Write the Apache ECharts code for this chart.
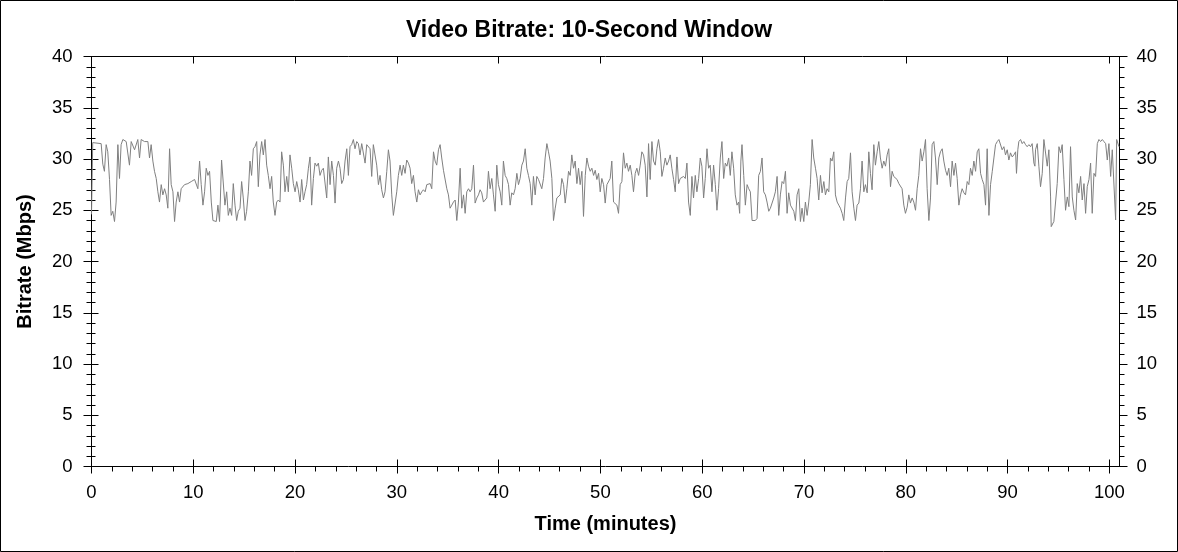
<!DOCTYPE html>
<html><head><meta charset="utf-8">
<script src="https://cdn.jsdelivr.net/npm/echarts@6/dist/echarts.min.js"></script>
<style>html,body{margin:0;padding:0;background:#fff}#c{width:1178px;height:552px}</style>
</head><body><div id="c"></div>
<script>
// [minute, Mbps] samples, split by time range
const seg00to13 = [[0,24.6],[0.12,31.6],[0.29,31.7],[0.95,31.5],[1.11,29.5],[1.27,28.8],[1.44,31.4],[1.60,30.7],[1.77,28.0],[1.93,24.5],[2.09,24.9],[2.26,23.9],[2.42,25.8],[2.59,31.4],[2.75,28.1],[2.91,31.4],[3.08,31.9],[3.41,31.7],[3.73,29.4],[3.90,31.7],[4.23,30.9],[4.55,31.9],[4.72,30.1],[4.88,31.9],[5.21,31.7],[5.54,31.7],[5.70,30.1],[5.86,31.4],[6.03,29.8],[6.19,28.8],[6.36,28.1],[6.52,26.8],[6.68,25.8],[6.85,27.5],[7.01,26.5],[7.18,27.1],[7.34,26.5],[7.50,25.2],[7.67,31.0],[7.83,27.5],[8.00,26.8],[8.16,23.9],[8.32,25.8],[8.49,26.8],[8.65,25.8],[8.81,27.1],[9.14,27.5],[9.47,27.6],[9.80,27.8],[10.13,28.0],[10.45,27.1],[10.62,29.8],[10.78,27.5],[10.95,25.5],[11.11,26.8],[11.27,29.1],[11.44,28.4],[11.60,28.8],[11.77,25.8],[11.93,24.0],[12.26,23.9],[12.42,25.5],[12.58,23.9],[12.66,26.0]];
const seg13to25 = [[12.78,29.9],[12.95,29.8],[13.11,25.5],[13.28,26.8],[13.44,24.5],[13.60,25.2],[13.77,24.5],[13.93,27.6],[14.10,25.5],[14.26,24.0],[14.42,24.9],[14.59,25.2],[14.75,27.8],[14.91,26.2],[15.08,24.0],[15.24,24.9],[15.41,26.8],[15.57,29.8],[15.73,28.4],[15.90,31.0],[16.06,31.2],[16.23,31.7],[16.39,27.3],[16.55,30.4],[16.72,31.7],[16.88,30.4],[17.05,31.9],[17.21,29.4],[17.37,28.4],[17.54,27.1],[17.70,28.3],[17.86,25.8],[18.03,24.5],[18.19,25.8],[18.36,26.0],[18.52,25.8],[18.68,30.7],[18.85,29.4],[19.01,26.8],[19.18,28.3],[19.34,26.8],[19.50,30.4],[19.67,29.1],[19.83,27.6],[20.00,26.8],[20.16,27.8],[20.32,27.0],[20.49,25.8],[20.65,28.0],[20.82,26.0],[20.98,26.8],[21.14,27.5],[21.31,29.1],[21.47,30.2],[21.63,25.5],[21.80,28.1],[21.96,29.6],[22.13,29.3],[22.29,29.6],[22.45,28.4],[22.62,28.9],[22.78,29.1],[22.95,29.1],[23.11,26.2],[23.27,30.2],[23.44,27.5],[23.60,29.8],[23.77,28.4],[23.93,25.7],[24.09,29.1],[24.26,29.8],[24.42,29.1],[24.58,27.6],[24.75,28.0],[24.91,29.8],[25.08,31.0],[25.24,28.4],[25.40,31.2]];
const seg25to38 = [[25.56,31.4],[25.73,31.9],[25.89,31.0],[26.06,31.7],[26.22,31.5],[26.38,30.4],[26.55,31.5],[26.71,31.4],[26.88,29.6],[27.04,31.4],[27.20,31.5],[27.37,31.0],[27.53,28.3],[27.69,31.4],[27.86,31.5],[28.02,29.4],[28.19,27.5],[28.35,28.4],[28.51,27.0],[28.68,26.2],[28.84,26.8],[29.01,28.8],[29.17,30.9],[29.33,29.8],[29.50,26.5],[29.66,24.5],[29.83,24.4],[29.99,26.8],[30.15,28.4],[30.32,29.4],[30.48,28.4],[30.64,29.4],[30.81,28.6],[30.97,29.9],[31.14,29.6],[31.30,29.1],[31.46,27.6],[31.63,28.4],[31.79,26.8],[31.96,25.8],[32.12,27.0],[32.28,26.5],[32.45,26.8],[32.61,27.0],[32.78,26.8],[32.94,27.5],[33.27,27.6],[33.43,27.1],[33.60,30.7],[33.76,29.8],[33.92,29.4],[34.09,30.9],[34.25,31.4],[34.41,30.1],[34.58,28.9],[34.74,28.8],[34.91,27.1],[35.07,26.5],[35.23,25.2],[35.40,25.5],[35.56,25.8],[35.73,26.0],[35.89,24.0],[36.05,25.8],[36.22,29.1],[36.38,25.2],[36.55,26.5],[36.71,24.7],[36.87,26.8],[37.04,27.1],[37.20,26.8],[37.36,27.1],[37.53,29.4],[37.69,25.7],[37.86,26.2],[38.02,26.5],[38.18,27.0]];
const seg38to51 = [[38.34,26.7],[38.51,25.8],[38.67,26.0],[38.84,26.2],[39.00,28.8],[39.16,27.1],[39.33,28.1],[39.49,26.5],[39.66,24.9],[39.82,29.4],[39.98,27.5],[40.15,26.8],[40.31,25.5],[40.47,29.8],[40.64,28.4],[40.80,28.1],[40.97,27.5],[41.13,25.5],[41.29,26.7],[41.46,26.5],[41.62,27.1],[41.79,28.6],[41.95,27.5],[42.11,28.1],[42.28,29.4],[42.44,29.8],[42.61,31.0],[42.77,29.1],[42.93,28.4],[43.10,27.6],[43.26,25.5],[43.42,28.3],[43.59,26.5],[43.75,28.3],[43.92,28.0],[44.08,28.1],[44.24,27.1],[44.41,28.1],[44.57,30.1],[44.74,31.5],[44.90,30.7],[45.06,29.8],[45.23,28.1],[45.39,24.0],[45.56,25.2],[45.72,26.2],[45.88,26.3],[46.05,26.5],[46.21,28.1],[46.38,27.5],[46.54,25.7],[46.70,27.1],[46.87,28.8],[47.03,28.4],[47.19,30.4],[47.36,29.1],[47.52,29.8],[47.69,27.6],[47.85,29.1],[48.01,27.5],[48.18,28.8],[48.34,24.4],[48.51,28.4],[48.67,30.1],[48.83,29.3],[49.00,28.8],[49.16,29.1],[49.33,28.4],[49.49,28.9],[49.65,28.0],[49.82,28.6],[49.98,26.8],[50.14,28.1],[50.31,27.5],[50.47,25.7],[50.64,27.5],[50.80,27.6],[50.96,28.1]];
const seg51to64 = [[51.12,29.8],[51.29,25.8],[51.45,25.7],[51.62,25.5],[51.78,24.7],[51.94,27.5],[52.11,27.8],[52.27,30.6],[52.44,29.1],[52.60,29.6],[52.76,28.8],[52.93,29.4],[53.09,28.4],[53.25,26.8],[53.42,28.6],[53.58,29.1],[53.75,28.4],[53.91,29.4],[54.07,30.7],[54.24,30.4],[54.40,29.4],[54.57,26.3],[54.73,31.5],[54.89,28.0],[55.06,31.7],[55.22,29.8],[55.39,29.4],[55.55,31.0],[55.71,31.9],[55.88,30.7],[56.04,28.3],[56.20,29.1],[56.37,30.1],[56.53,29.4],[56.70,29.8],[56.86,30.4],[57.02,29.1],[57.19,28.0],[57.35,26.8],[57.52,30.2],[57.68,27.6],[57.84,28.1],[58.01,28.1],[58.17,28.3],[58.34,28.1],[58.50,29.6],[58.66,25.8],[58.83,24.5],[58.99,28.3],[59.15,26.2],[59.32,28.4],[59.48,26.8],[59.65,28.1],[59.81,30.1],[59.97,29.3],[60.14,26.2],[60.30,28.1],[60.47,31.0],[60.63,29.1],[60.79,29.4],[60.96,26.8],[61.12,29.4],[61.29,27.5],[61.45,25.0],[61.61,27.1],[61.78,30.1],[61.94,31.7],[62.11,28.1],[62.27,29.6],[62.43,29.3],[62.60,30.1],[62.76,28.4],[62.92,30.7],[63.09,29.1],[63.25,26.5],[63.42,25.5],[63.58,25.8],[63.68,24.7]];
const seg64to76 = [[63.80,29.8],[63.91,31.4],[64.08,28.4],[64.24,25.5],[64.41,27.5],[64.57,27.1],[64.73,26.8],[64.90,24.0],[65.22,24.0],[65.39,24.2],[65.55,28.4],[65.72,28.8],[65.88,30.1],[66.04,26.8],[66.21,26.5],[66.37,25.8],[66.54,24.9],[66.70,25.2],[66.86,25.2],[67.03,26.2],[67.19,26.8],[67.36,28.3],[67.52,24.5],[67.68,26.5],[67.85,27.8],[68.01,27.6],[68.18,28.8],[68.34,24.7],[68.50,26.7],[68.67,25.5],[68.83,25.5],[69.00,24.9],[69.16,24.0],[69.32,26.5],[69.49,27.1],[69.65,23.9],[69.81,25.2],[69.98,23.9],[70.14,25.8],[70.31,24.5],[70.47,25.8],[70.63,27.5],[70.80,31.9],[70.96,30.1],[71.13,29.1],[71.29,28.1],[71.45,26.0],[71.62,28.4],[71.78,26.7],[71.95,27.8],[72.11,26.5],[72.27,27.1],[72.44,26.8],[72.60,30.1],[72.76,29.8],[72.93,30.7],[73.09,26.5],[73.26,25.8],[73.42,25.5],[73.58,25.2],[73.75,24.7],[73.91,24.0],[74.08,26.2],[74.24,27.8],[74.40,28.1],[74.57,30.6],[74.73,26.8],[74.90,25.2],[75.06,24.0],[75.22,25.5],[75.39,25.7],[75.55,27.1],[75.71,29.8],[75.88,26.8],[76.04,27.5],[76.21,26.7],[76.37,30.7]];
const seg76to89 = [[76.53,28.6],[76.69,27.0],[76.86,31.4],[77.02,29.4],[77.19,30.7],[77.35,31.7],[77.51,30.1],[77.68,29.1],[77.84,29.8],[78.01,29.3],[78.17,30.4],[78.33,31.0],[78.50,27.3],[78.66,28.8],[78.82,28.3],[78.99,28.4],[79.15,28.0],[79.32,27.6],[79.48,27.5],[79.64,27.1],[79.81,25.5],[79.97,24.7],[80.14,25.3],[80.30,26.5],[80.46,25.7],[80.63,26.2],[80.79,25.8],[80.96,25.0],[81.12,27.1],[81.28,28.4],[81.45,31.0],[81.61,29.8],[81.78,30.7],[81.94,31.9],[82.10,27.1],[82.27,24.0],[82.43,26.2],[82.59,31.4],[82.76,31.7],[82.92,30.1],[83.09,27.5],[83.25,30.1],[83.41,30.7],[83.58,31.0],[83.74,29.8],[83.91,28.9],[84.07,28.4],[84.23,29.1],[84.40,27.3],[84.56,29.8],[84.73,28.4],[84.89,29.6],[85.05,28.1],[85.22,25.5],[85.38,26.5],[85.54,27.1],[85.71,26.7],[85.87,26.5],[86.04,27.8],[86.20,27.5],[86.36,29.1],[86.53,28.4],[86.69,29.8],[86.86,28.8],[87.02,30.7],[87.18,31.0],[87.35,28.6],[87.51,28.0],[87.68,27.5],[87.84,25.5],[88.00,31.0],[88.17,24.5],[88.33,27.5],[88.50,28.8],[88.66,30.1],[88.82,31.4],[88.99,31.7],[89.15,31.9],[89.31,32.0]];
const seg89to101 = [[89.47,30.9],[89.64,31.2],[89.80,30.4],[89.97,30.9],[90.13,29.9],[90.29,30.6],[90.46,30.2],[90.62,30.4],[90.79,30.7],[90.88,28.6],[91.01,30.9],[91.11,31.7],[91.28,31.9],[91.44,31.5],[91.60,31.7],[91.77,31.4],[91.93,31.2],[92.10,31.4],[92.26,31.2],[92.42,31.5],[92.59,29.6],[92.69,29.3],[92.75,30.9],[92.92,31.5],[93.08,29.3],[93.24,27.3],[93.41,28.6],[93.57,31.9],[93.74,31.9],[93.90,29.3],[94.06,30.9],[94.23,26.3],[94.29,23.4],[94.55,23.9],[94.72,24.05],[94.88,27.6],[95.05,31.2],[95.21,30.6],[95.37,31.4],[95.54,28.0],[95.70,25.0],[95.87,26.3],[96.03,25.35],[96.19,31.2],[96.36,26.3],[96.52,25.0],[96.69,24.05],[96.85,27.6],[97.01,26.7],[97.18,28.3],[97.34,26.0],[97.51,27.6],[97.67,24.7],[97.83,27.3],[98.00,28.0],[98.16,29.6],[98.32,24.7],[98.49,28.6],[98.65,28.3],[98.82,31.5],[98.98,31.9],[99.14,31.7],[99.31,31.9],[99.47,31.7],[99.64,31.5],[99.80,29.9],[99.96,31.5],[100.13,28.3],[100.29,30.9],[100.45,30.9],[100.62,24.05],[100.72,31.9],[100.85,31.9],[100.95,31.2]];

const xMajorTicks = [0,10,20,30,40,50,60,70,80,90,100];
const xMinorTicks = [2,4,6,8,12,14,16,18,22,24,26,28,32,34,36,38,42,44,46,48,52,54,56,58,62,64,66,68,72,74,76,78,82,84,86,88,92,94,96,98];
const xMax = 101;
const yMin = 0, yMax = 40, yStep = 5;

const samples = [].concat(seg00to13, seg13to25, seg25to38, seg38to51, seg51to64, seg64to76, seg76to89, seg89to101);

const FONT = '"Liberation Sans", Arial, sans-serif';
const black = '#000';

function xAx(o) {
  return Object.assign({
    type: 'value', min: 0, max: xMax, position: 'bottom',
    axisLine: { show: false, lineStyle: { color: black, width: 1 } },
    axisTick: { show: false, lineStyle: { color: black, width: 1 } },
    minorTick: { show: false },
    axisLabel: { show: false },
    splitLine: { show: false }, minorSplitLine: { show: false },
    axisPointer: { show: false }
  }, o);
}
function yAx(o) {
  return Object.assign({
    type: 'value', min: yMin, max: yMax, interval: yStep, position: 'left',
    axisLine: { show: false, lineStyle: { color: black, width: 1 } },
    axisTick: { show: false, lineStyle: { color: black, width: 1 } },
    minorTick: { show: false },
    axisLabel: { show: false },
    splitLine: { show: false }, minorSplitLine: { show: false }
  }, o);
}

const chart = echarts.init(document.getElementById('c'), null, { renderer: 'canvas' });
chart.setOption({
  animation: false,
  backgroundColor: '#fff',
  title: {
    text: 'Video Bitrate: 10-Second Window', left: 'center', top: 14,
    textStyle: { fontFamily: FONT, fontWeight: 'bold', fontSize: 23, color: black }
  },
  grid: { left: 91.5, right: 58.5, top: 56.5, bottom: 85.5, containLabel: false },
  xAxis: [
    xAx({
      axisLine: { show: true, onZero: false, lineStyle: { color: black, width: 1 } },
      axisTick: { show: true, inside: false, length: 7, customValues: xMajorTicks, lineStyle: { color: black } },
      axisLabel: { show: true, customValues: xMajorTicks, margin: 17, color: black, fontFamily: FONT, fontSize: 18.5 },
      name: 'Time (minutes)', nameLocation: 'middle', nameGap: 48,
      nameTextStyle: { fontFamily: FONT, fontWeight: 'bold', fontSize: 20, color: black }
    }),
    xAx({ axisTick: { show: true, inside: true, length: 7, customValues: xMajorTicks, lineStyle: { color: black } } }),
    xAx({ axisTick: { show: true, inside: false, length: 4, customValues: xMinorTicks, lineStyle: { color: black } } }),
    xAx({ position: 'top',
      axisLine: { show: true, onZero: false, lineStyle: { color: black, width: 1 } },
      axisTick: { show: true, inside: true, length: 7, customValues: xMajorTicks, lineStyle: { color: black } } }),
    xAx({ position: 'top', axisTick: { show: true, inside: true, length: 5, customValues: xMinorTicks, lineStyle: { color: black } } })
  ],
  yAxis: [
    yAx({
      axisLine: { show: true, onZero: false, lineStyle: { color: black, width: 1 } },
      axisTick: { show: true, inside: false, length: 8, lineStyle: { color: black } },
      minorTick: { show: true, splitNumber: 5, length: 4, lineStyle: { color: black } },
      axisLabel: { show: true, margin: 19, color: black, fontFamily: FONT, fontSize: 18.5 },
      name: 'Bitrate (Mbps)', nameLocation: 'middle', nameGap: 56,
      nameTextStyle: { fontFamily: FONT, fontWeight: 'bold', fontSize: 20, color: black }
    }),
    yAx({
      axisTick: { show: true, inside: true, length: 7, lineStyle: { color: black } },
      minorTick: { show: true, splitNumber: 5, length: 4, lineStyle: { color: black } }
    }),
    yAx({ position: 'right',
      axisLine: { show: true, onZero: false, lineStyle: { color: black, width: 1 } },
      axisTick: { show: true, inside: false, length: 8, lineStyle: { color: black } },
      minorTick: { show: true, splitNumber: 5, length: 5, lineStyle: { color: black } },
      axisLabel: { show: true, margin: 17, color: black, fontFamily: FONT, fontSize: 18.5 }
    }),
    yAx({ position: 'right',
      axisTick: { show: true, inside: true, length: 6, lineStyle: { color: black } },
      minorTick: { show: true, splitNumber: 5, length: 5, lineStyle: { color: black } }
    })
  ],
  series: [{
    type: 'line', xAxisIndex: 0, yAxisIndex: 0,
    data: samples, symbol: 'none', showSymbol: false, clip: true,
    lineStyle: { color: '#808080', width: 1 }
  }],
  graphic: [{
    type: 'rect', silent: true, z: 100,
    shape: { x: 0.5, y: 0.5, width: 1177, height: 551 },
    style: { fill: null, stroke: black, lineWidth: 1 }
  }]
});
</script></body></html>
